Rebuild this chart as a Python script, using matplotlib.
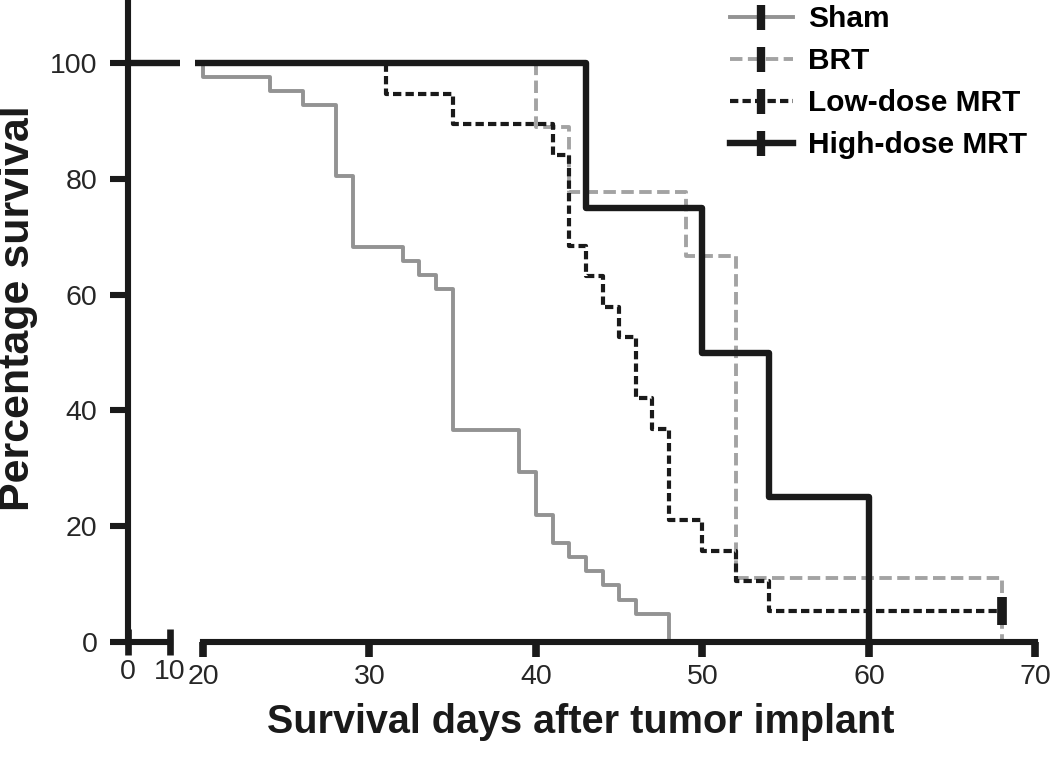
import matplotlib
matplotlib.use('Agg')
import matplotlib.pyplot as plt
from matplotlib.lines import Line2D

plt.rcParams['font.family'] = ['Liberation Sans', 'DejaVu Sans']

# Kaplan-Meier steps (day, % surviving)
sham_days = [0, 20, 24, 26, 28, 29, 32, 33, 34, 35, 39, 40, 41, 42, 43, 44, 45, 46, 48]
sham_surv = [100, 97.6, 95.1, 92.7, 80.5, 68.3, 65.9, 63.4, 61.0, 36.6, 29.3, 22.0,
             17.1, 14.6, 12.2, 9.8, 7.3, 4.9, 0]

brt_days = [0, 40, 42, 49, 52, 68]
brt_surv = [100, 88.9, 77.8, 66.7, 11.1, 0]

low_days = [0, 31, 35, 41, 42, 43, 44, 45, 46, 47, 48, 50, 52, 54, 68]
low_surv = [100, 94.7, 89.5, 84.2, 68.4, 63.2, 57.9, 52.6, 42.1, 36.8, 21.1, 15.8,
            10.5, 5.3, 5.3]
low_censor_day = [68]
low_censor_surv = [5.3]

high_days = [0, 43, 50, 54, 60]
high_surv = [100, 75, 50, 25, 0]

labels = ['Sham', 'BRT', 'Low-dose MRT', 'High-dose MRT']
y_ticks = [0, 20, 40, 60, 80, 100]
x_ticks_left = [0, 10]
x_ticks_right = [20, 30, 40, 50, 60, 70]

ink = '#1a1a1a'
gray1 = '#939393'
gray2 = '#a3a3a3'

styles = [
    dict(color=gray1, lw=2.8, ls='-'),
    dict(color=gray2, lw=2.8, ls=(0, (3.2, 1.4))),
    dict(color=ink, lw=3.0, ls=(0, (2.0, 1.0))),
    dict(color=ink, lw=4.6, ls='-'),
]
series = [(sham_days, sham_surv), (brt_days, brt_surv),
          (low_days, low_surv), (high_days, high_surv)]

fig = plt.figure(figsize=(10.5, 7.61), dpi=100)
W, H = 1050, 761
bottom = 1 - 642 / H
# broken x axis: a narrow panel for 0-10 and a wide one for 20-70
axL = fig.add_axes([128 / W, bottom, 52 / W, 1 - bottom])
axR = fig.add_axes([195 / W, bottom, 852 / W, 1 - bottom], sharey=axL)

for ax in (axL, axR):
    for (d, s), st in zip(series, styles):
        ax.step(d, s, where='post', solid_capstyle='butt', **st)
    ax.plot(low_censor_day, low_censor_surv, ls='none', marker='|', ms=20, mew=7, color=ink)
    for side in ('top', 'right'):
        ax.spines[side].set_visible(False)
    ax.spines['bottom'].set_linewidth(4.4)
    ax.spines['bottom'].set_color(ink)

axL.set_ylim(0, 110.9)
axL.set_xlim(0, 12.38)
axR.set_xlim(19.52, 70.7)

axL.spines['left'].set_linewidth(4.4)
axL.spines['left'].set_color(ink)
axL.spines['bottom'].set_bounds(0, 10)
axR.spines['bottom'].set_bounds(20, 70)
axR.spines['left'].set_visible(False)

axL.set_yticks(y_ticks)
axL.set_xticks(x_ticks_left)
axR.set_xticks(x_ticks_right)
axR.tick_params(axis='y', left=False, labelleft=False)

tick_font = 20.5
axL.tick_params(axis='y', direction='out', length=13, width=4.4, color=ink,
                labelsize=tick_font, labelcolor='#262626', pad=9)
axL.tick_params(axis='x', direction='inout', length=19, width=4.8, color=ink,
                labelsize=tick_font, labelcolor='#262626', pad=3)
axR.tick_params(axis='x', direction='out', length=11, width=5.5, color=ink,
                labelsize=tick_font, labelcolor='#262626', pad=5)
axR.set_xticks([20], minor=True)
axR.tick_params(axis='x', which='minor', direction='inout', length=19, width=4.8, color=ink)

axL.set_ylabel('Percentage survival', fontsize=31, fontweight='bold', color=ink)
axL.yaxis.set_label_coords((18 - 128) / 52, 1 - 308 / 642)
axL.yaxis.label.set_va('center')
fig.text(581 / W, 1 - 722 / H, 'Survival days after tumor implant', fontsize=28.5,
         fontweight='bold', color=ink, ha='center', va='center')

handles = [Line2D([], [], marker='|', ms=18, mew=6, mec=ink, **st) for st in styles]
fig.legend(handles, labels, loc='upper left', bbox_to_anchor=(730 / W, 1 - 5 / H),
           frameon=False, borderpad=0, borderaxespad=0, numpoints=1,
           handlelength=2.1, handletextpad=0.5, labelspacing=0.47,
           prop={'size': 21.5, 'weight': 'bold'})

fig.savefig('out.png', dpi=100)
